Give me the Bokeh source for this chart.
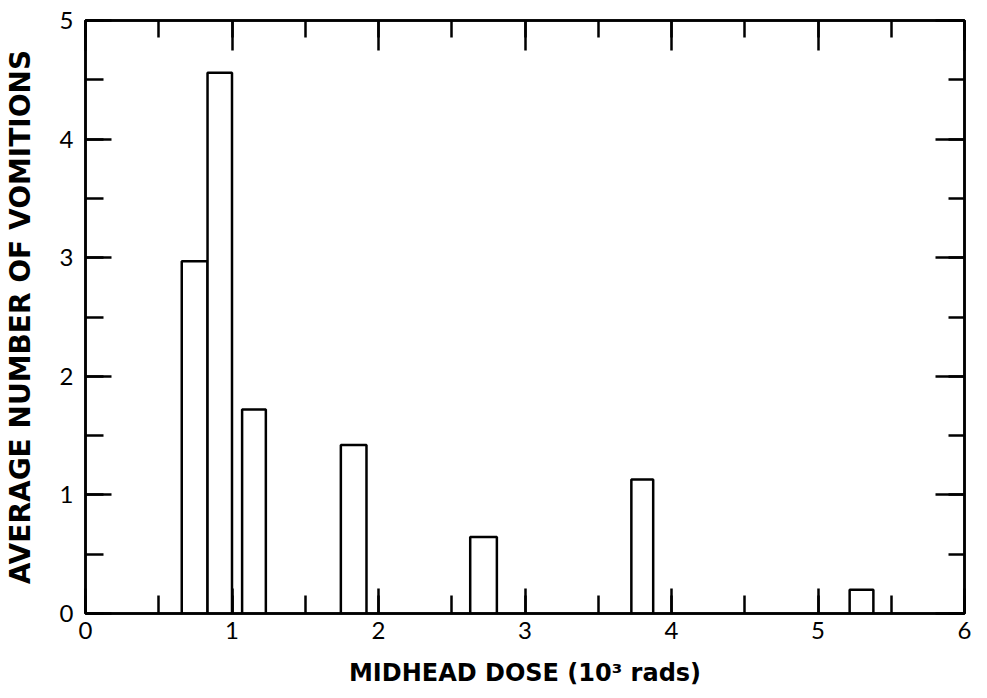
from bokeh.plotting import figure
from bokeh.models import Range1d, LinearAxis, SingleIntervalTicker
from bokeh.embed import file_html
from bokeh.resources import INLINE

# Data (dose in 10^3 rads)
bar_left = [0.657, 0.833, 1.069, 1.743, 2.626, 3.726, 5.216]
bar_right = [0.833, 1.000, 1.231, 1.918, 2.808, 3.875, 5.378]
avg_vomitions = [2.97, 4.56, 1.72, 1.42, 0.645, 1.13, 0.20]

x_title = "MIDHEAD DOSE (10\u00b3 rads)"
y_title = "AVERAGE NUMBER OF VOMITIONS"

NUM_FONT = "Lato"
TITLE_FONT = "DejaVu Sans"
LW = 2.5

p = figure(width=971, height=689, output_backend="svg", toolbar_location=None,
           x_range=Range1d(0, 6), y_range=Range1d(0, 5),
           min_border_left=80, min_border_right=7, min_border_top=20,
           min_border_bottom=70, x_axis_location=None, y_axis_location=None)
p.grid.visible = False
p.outline_line_color = "black"
p.outline_line_width = LW
p.background_fill_color = "white"
p.border_fill_color = "white"


def style_axis(ax, tin, tmin, labels=True):
    ax.ticker = SingleIntervalTicker(interval=1, num_minor_ticks=2)
    ax.axis_line_color = "black"
    ax.axis_line_width = LW
    ax.major_tick_line_color = "black"
    ax.major_tick_line_width = LW
    ax.minor_tick_line_color = "black"
    ax.minor_tick_line_width = LW
    ax.major_tick_in = tin
    ax.major_tick_out = 0
    ax.minor_tick_in = tmin
    ax.minor_tick_out = 0
    if labels:
        ax.major_label_text_font = NUM_FONT
        ax.major_label_text_font_size = "24px"
        ax.major_label_text_color = "black"
        ax.axis_label_text_font = TITLE_FONT
        ax.axis_label_text_font_style = "bold"
        ax.axis_label_text_color = "black"
    else:
        ax.major_label_text_font_size = "1px"
        ax.major_label_text_color = None
        ax.major_label_standoff = 0
        ax.axis_label_standoff = 0


xb = LinearAxis(axis_label=x_title)
style_axis(xb, 25, 18)
xb.major_label_standoff = 8
xb.axis_label_standoff = 17
xb.axis_label_text_font_size = "24px"
p.add_layout(xb, "below")

yl = LinearAxis(axis_label=y_title)
style_axis(yl, 26, 18)
yl.major_label_standoff = 12
yl.axis_label_standoff = 20
yl.axis_label_text_font_size = "28px"
p.add_layout(yl, "left")

xt = LinearAxis()
style_axis(xt, 30, 17, labels=False)
p.add_layout(xt, "above")

yr = LinearAxis()
style_axis(yr, 29, 16, labels=False)
p.add_layout(yr, "right")

p.quad(left=bar_left, right=bar_right, bottom=0, top=avg_vomitions,
       fill_color="white", line_color="black", line_width=LW)

open("out.html", "w").write(file_html(p, INLINE))
